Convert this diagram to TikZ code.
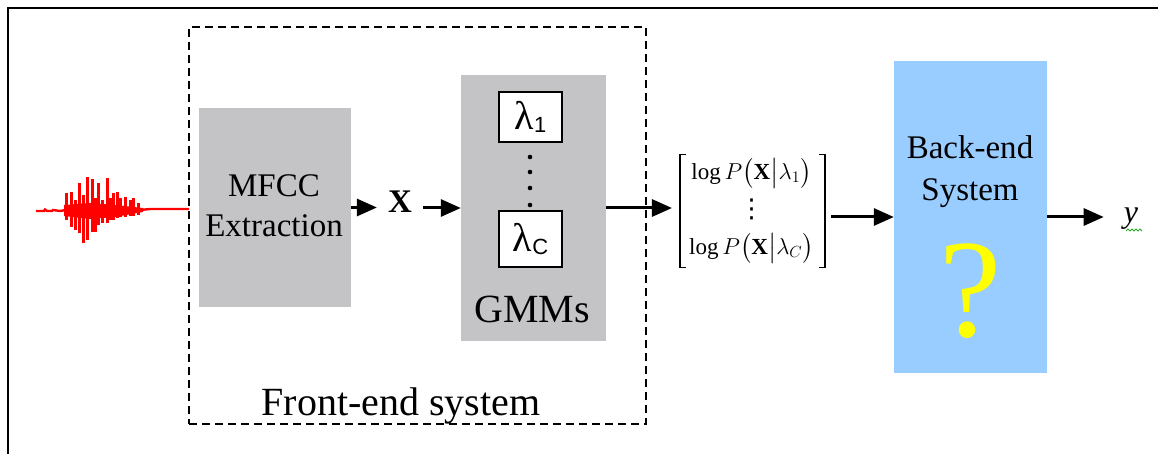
\RequirePackage{fix-cm}
\documentclass[tikz,border=0pt]{standalone}
\usepackage{amsmath}
\usepackage{fontspec}
\setmainfont{Liberation Serif}
\newfontfamily\subsans{Liberation Sans}
\newfontfamily\dejavu{DejaVu Sans}
\usetikzlibrary{arrows.meta,calc}
\definecolor{boxgray}{RGB}{196,195,198}
\definecolor{backblue}{RGB}{153,204,255}
\definecolor{wavered}{RGB}{255,0,0}
\definecolor{qyellow}{RGB}{255,255,0}
\definecolor{sqgreen}{RGB}{40,170,40}
\begin{document}
\begin{tikzpicture}[x=1pt,y=-1pt,
  arr/.style={line width=3pt,-{Triangle[length=20pt,width=17pt]}},
  graybox/.style={fill=boxgray,draw=none,inner sep=0pt},
  lbox/.style={draw=black,line width=2pt,fill=white,minimum width=63pt,inner sep=0pt},
  frontbox/.style={draw=black,dash pattern=on 8pt off 5pt,line width=1.3pt,inner sep=0pt},
  bigtxt/.style={font=\fontsize{40}{48}\selectfont,inner sep=0pt},
  midtxt/.style={font=\fontsize{33}{40}\selectfont,align=center,inner sep=0pt},
  brk/.style={line width=1.4pt},
  wave/.style={wavered,line width=2.4pt},
  wavebar/.style={wavered,line width=3pt}
]
\useasboundingbox (0,0) rectangle (1158,454);
% outer frame
\draw[line width=2.8pt] (8,454) -- (8,8) -- (1158,8);

% front-end dashed box
\node[frontbox,minimum width=457pt,minimum height=397pt] (front) at (417.5,225.5) {};
\node[bigtxt,anchor=base] (frontlbl) at (401,415) {Front-end system};

% waveform
\draw[wave] (36,211) -- (44,211) -- (45,209.5) -- (47,211) -- (52,211) -- (53,210) -- (60,211) -- (66,210)
  -- (140,210) -- (150,209) -- (160,209) -- (170,209) -- (189,209);
\fill[wavered] (64,205) -- (90,203) -- (115,205) -- (143,208) -- (143,212) -- (115,217) -- (90,219) -- (64,216) -- cycle;
\foreach \x/\t/\b in {66.7/193/220,71/192/227,75/200/230,79/183/233,83/195/243,87/177/240,
  92/179/232,95/198/232,98/183/225,102/200/223,107/178/223,110/198/220,113/193/220,117/192/218,
  120/198/217,125/197/217,130/200/216,133/198/216,138/203/215}
  \draw[wavebar] (\x,\t) -- (\x,\b);

% MFCC
\node[graybox,minimum width=152pt,minimum height=199pt] (mfcc) at (275,207.5) {};
\node[midtxt] (mfcctxt) at (274,206) {MFCC\\Extraction};

% X
\node[font=\fontsize{33}{33}\selectfont\bfseries,inner ysep=0pt,inner xsep=11pt,anchor=base] (X) at (400,213) {X};

% GMMs
\node[graybox,minimum width=145pt,minimum height=266pt] (gmm) at (533.5,208) {};
\node[lbox,minimum height=50pt] (l1) at (530.5,117) {{\fontsize{40}{40}\selectfont λ}\raisebox{-3pt}{\subsans\fontsize{22}{22}\selectfont 1}};
\node[lbox,minimum height=56pt] (lC) at (530.5,239) {{\fontsize{40}{40}\selectfont λ}\raisebox{-3pt}{\subsans\fontsize{22}{22}\selectfont C}};
\foreach \yy in {157,172,188,205} \fill (530,\yy) circle (2.3pt);
\node[bigtxt,anchor=base] (gmmlbl) at (532,322) {GMMs};

% score vector
\node[inner xsep=17pt,inner ysep=0pt,minimum height=112pt,font=\fontsize{23}{28}\selectfont] (mat) at (751.5,211)
  {$\begin{matrix}\log P\bigl(\mathbf{X}\big|\lambda_1\bigr)\\[10pt] \text{\dejavu\fontsize{26}{26}\selectfont ⋮}\\[8pt] \log P\bigl(\mathbf{X}\big|\lambda_C\bigr)\end{matrix}$};
\draw[brk] ($(mat.north west)+(14,0)$) -- ($(mat.north west)+(8,0)$) -- ($(mat.south west)+(8,0)$) -- ($(mat.south west)+(14,0)$);
\draw[brk] ($(mat.north east)+(-12,0)$) -- ($(mat.north east)+(-6,0)$) -- ($(mat.south east)+(-6,0)$) -- ($(mat.south east)+(-12,0)$);

% back-end
\node[fill=backblue,minimum width=153pt,minimum height=312pt,inner sep=0pt] (back) at (970.5,217) {};
\node[midtxt,font=\fontsize{33}{42}\selectfont] (backlbl) at (970,172) {Back-end\\System};
\node[text=qyellow,font=\fontsize{140}{140}\selectfont,inner sep=0pt] (q) at (971,291) {?};

% output
\node[font=\itshape\fontsize{32}{32}\selectfont,inner sep=0pt,anchor=base] (yout) at (1131,223) {y};
\draw[sqgreen,line width=1pt] (1126,231) -- (1128,229) -- (1130,231) -- (1132,229) -- (1134,231)
  -- (1136,229) -- (1138,231) -- (1140,229) -- (1142,231);

% connectors
\draw[arr] (mfcc.east) -- (mfcc.east -| X.west) ;
\draw[arr] (X.east |- gmm.west) -- (gmm.west);
\draw[arr] (gmm.east) -- (gmm.east -| mat.west);
\draw[arr] (mat.east |- back.west) -- (back.west);
\draw[arr,shorten >=20pt] (back.east) -- (back.east -| yout.west);
\end{tikzpicture}
\end{document}
